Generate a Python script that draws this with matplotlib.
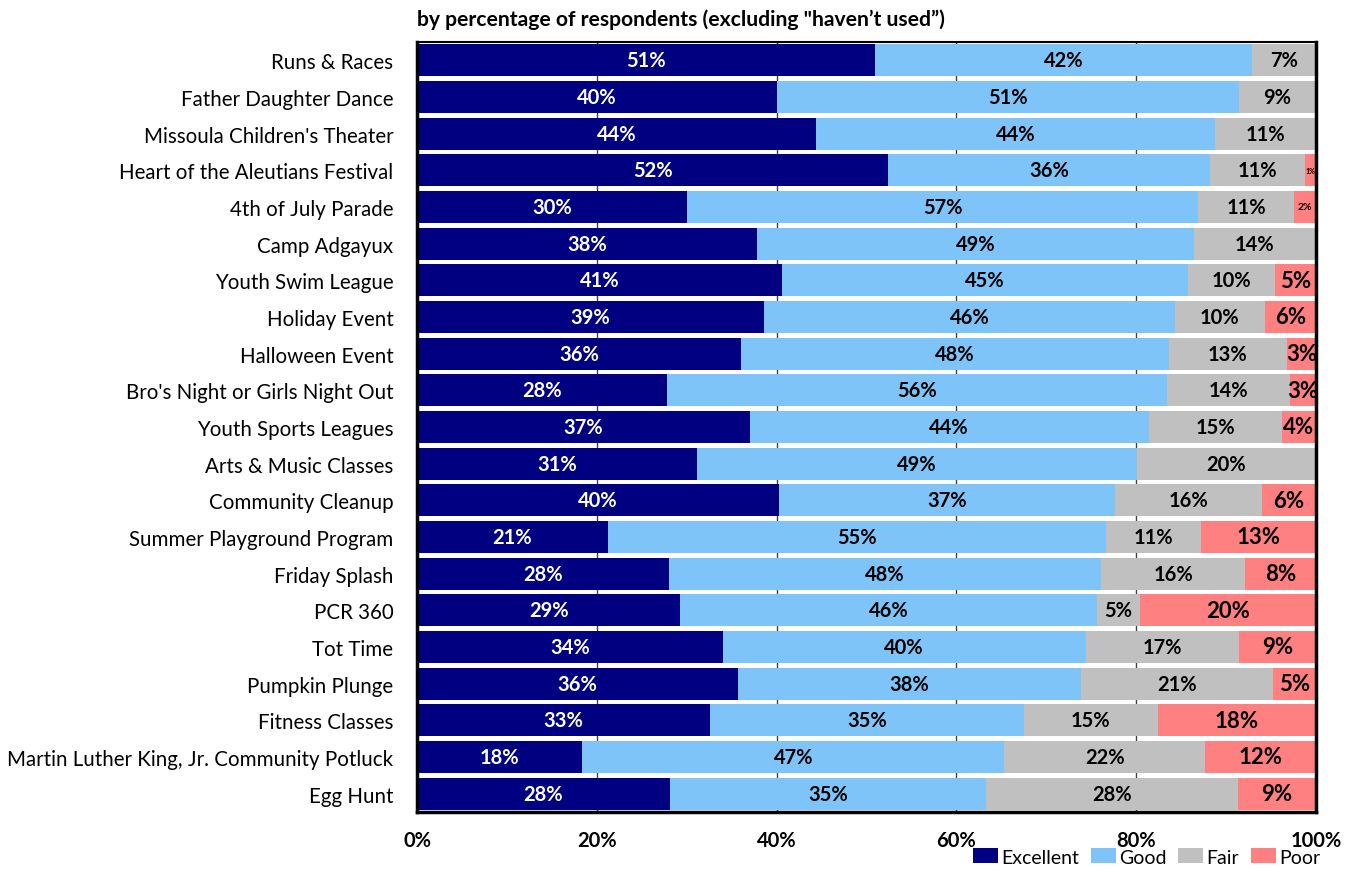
import matplotlib
matplotlib.use("Agg")
import matplotlib.pyplot as plt
from matplotlib.patches import Patch
import numpy as np

plt.rcParams['font.family'] = ['Lato', 'DejaVu Sans']

categories = [
    "Runs & Races", "Father Daughter Dance", "Missoula Children's Theater",
    "Heart of the Aleutians Festival", "4th of July Parade", "Camp Adgayux",
    "Youth Swim League", "Holiday Event", "Halloween Event",
    "Bro's Night or Girls Night Out", "Youth Sports Leagues", "Arts & Music Classes",
    "Community Cleanup", "Summer Playground Program", "Friday Splash", "PCR 360",
    "Tot Time", "Pumpkin Plunge", "Fitness Classes",
    "Martin Luther King, Jr. Community Potluck", "Egg Hunt",
]
excellent = [50.9, 40.0, 44.4, 52.4, 30.0, 37.8, 40.6, 38.6, 36.0, 27.8, 37.0,
             31.1, 40.3, 21.2, 28.0, 29.3, 34.0, 35.7, 32.6, 18.4, 28.1]
good = [42.0, 51.4, 44.4, 35.8, 56.9, 48.6, 45.2, 45.7, 47.6, 55.6, 44.4,
        49.0, 37.3, 55.4, 48.1, 46.3, 40.4, 38.2, 34.9, 46.9, 35.2]
fair = [7.1, 8.6, 11.2, 10.6, 10.7, 13.6, 9.6, 10.0, 13.2, 13.7, 14.8,
        19.9, 16.4, 10.6, 16.0, 4.8, 17.0, 21.3, 14.9, 22.4, 28.0]
poor = [0.0, 0.0, 0.0, 1.2, 2.4, 0.0, 4.6, 5.7, 3.2, 2.9, 3.8,
        0.0, 6.0, 12.8, 7.9, 19.6, 8.6, 4.8, 17.6, 12.3, 8.7]
series_names = ["Excellent", "Good", "Fair", "Poor"]
colors = ["#000080", "#7FC4F8", "#C0C0C0", "#FF8080"]
xticks = [0, 20, 40, 60, 80, 100]
xticklabels = ["0%", "20%", "40%", "60%", "80%", "100%"]

fig = plt.figure(figsize=(13.53, 8.70), dpi=100)
ax = fig.add_axes([417 / 1353, 1 - 813 / 870, (1316 - 417) / 1353, (813 - 43) / 870])

y = np.arange(len(categories))
left = np.zeros(len(categories))
all_series = [excellent, good, fair, poor]
for si, (vals, name, col) in enumerate(zip(all_series, series_names, colors)):
    vals = np.array(vals)
    ax.barh(y, vals, left=left, height=0.87, color=col, label=name, zorder=2)
    for i, v in enumerate(vals):
        if v <= 0:
            continue
        cx = left[i] + v / 2
        txt = f"{v:.0f}%"
        tc = "white" if si == 0 else "black"
        fs = 14.5
        if si == 3:
            fs = 16 if v >= 2.5 else 7.5 if v >= 2 else 5
        ax.text(cx, y[i], txt, ha="center", va="center", color=tc,
                fontsize=fs, fontweight="bold", zorder=3)
    left += vals

ax.set_xlim(0, 100)
ax.set_ylim(len(categories) - 0.5, -0.5)
ax.set_yticks(y)
ax.set_yticklabels(categories, fontsize=14.8)
ax.set_xticks(xticks)
ax.set_xticklabels(xticklabels, fontsize=14.5, fontweight="bold")
ax.tick_params(axis="y", length=0, pad=17)
ax.tick_params(axis="x", direction="in", length=5, top=True, bottom=True, pad=13,
               color="#404040")
ax.xaxis.grid(True, color="#404040", linewidth=1, zorder=0)
ax.set_axisbelow(True)
for s in ["left", "bottom", "right"]:
    ax.spines[s].set_linewidth(2.5)
ax.spines["top"].set_linewidth(1.5)

fig.text(417 / 1353, 1 - 20 / 870, "by percentage of respondents (excluding \"haven\u2019t used\u201d)",
         fontsize=15.2, fontweight="bold", ha="left", va="center")

handles = [Patch(facecolor=c, edgecolor="none") for c in colors]
fig.legend(handles, series_names, loc="center right", bbox_to_anchor=(1320 / 1353, 1 - 858 / 870),
           ncol=4, frameon=False, fontsize=14, handlelength=1.3, handleheight=0.8,
           handletextpad=0.15, columnspacing=0.6, borderpad=0, borderaxespad=0)

fig.savefig("out.png", dpi=100)
